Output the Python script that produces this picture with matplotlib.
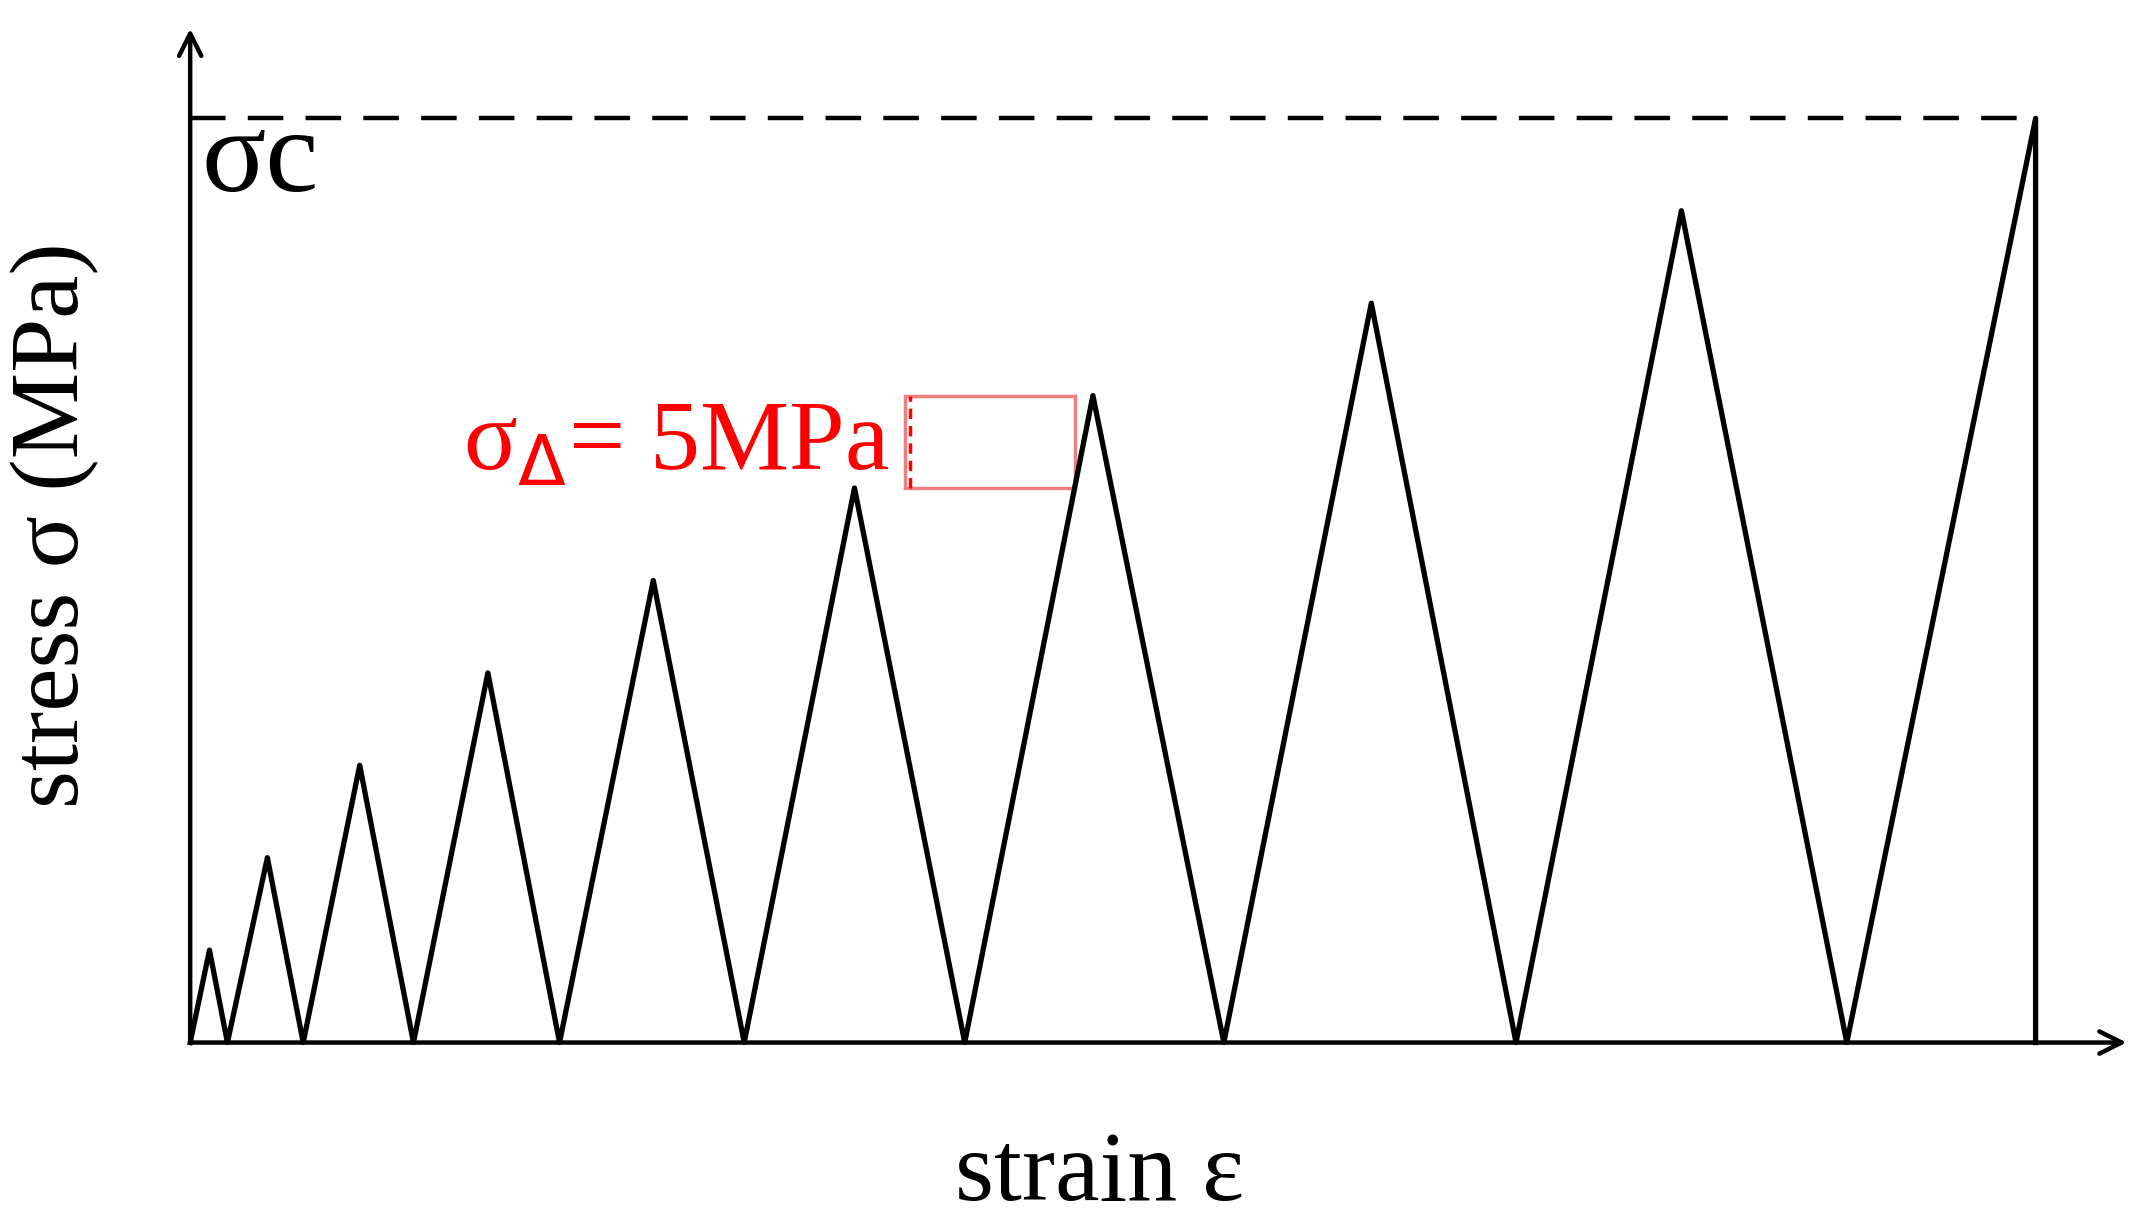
import matplotlib
matplotlib.use("Agg")
import matplotlib.pyplot as plt
from matplotlib.patches import Rectangle

# strain positions (arbitrary units) and stress (MPa)
valley_x = [138, 165, 220, 300, 406, 540, 700, 888, 1100, 1340]
peak_x = [152, 194, 261, 354, 474, 620, 793, 995, 1220, 1477]
peak_s = [5, 10, 15, 20, 25, 30, 35, 40, 45, 50]
sigma_c = 50
x0, x_end = 138, 1545

xs, ys = [], []
for vx, px, ps in zip(valley_x, peak_x, peak_s):
    xs += [vx, px]; ys += [0, ps]
xs.append(peak_x[-1]); ys.append(0)

fig = plt.figure(figsize=(21.5, 12.2), dpi=100)
ax = fig.add_axes([0, 0, 1, 1])
ax.set_xlim(0, 1560)
ax.set_ylim(-9.6, 56.4)
ax.axis("off")

ax.plot(xs, ys, color="black", lw=3.8)
ax.plot([x0, peak_x[-1]], [sigma_c, sigma_c], color="black", lw=3.2, dashes=(8, 5))
ax.annotate("", xy=(x_end, 0), xytext=(x0, 0),
            arrowprops=dict(arrowstyle="->,head_length=1.6,head_width=0.8", lw=3.2, color="black"))
ax.annotate("", xy=(x0, 55), xytext=(x0, 0),
            arrowprops=dict(arrowstyle="->,head_length=1.6,head_width=0.8", lw=3.2, color="black"))

serif = ["Liberation Serif", "DejaVu Serif"]
ax.text(146, 47.6, "σc", fontsize=86, family=serif, va="center", ha="left")
ax.text(40, 28, "stress σ (MPa)", fontsize=70, family=serif, rotation=90, va="center", ha="center")
ax.text(798, -7.2, "strain ε", fontsize=72, family=serif, va="center", ha="center")
ax.text(645, 32.3, r"σ$_\Delta$= 5MPa", fontsize=72, family=serif, color="red", va="center", ha="right")
ax.add_patch(Rectangle((657, 30), 123, 5, fill=False, edgecolor="#f08080", lw=2.5))
ax.plot([660, 660], [30, 35], color="red", lw=2.5, dashes=(3, 2))

fig.savefig("out.png", dpi=100)
